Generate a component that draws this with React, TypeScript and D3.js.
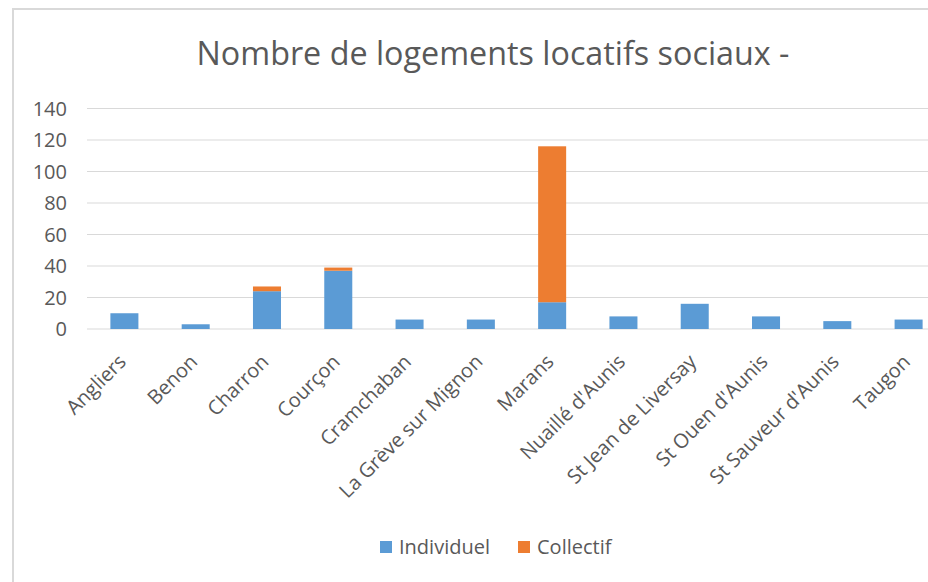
import * as d3 from 'd3';

const communes = [
  'Angliers',
  'Benon',
  'Charron',
  'Courçon',
  'Cramchaban',
  'La Grève sur Mignon',
  'Marans',
  "Nuaillé d'Aunis",
  'St Jean de Liversay',
  "St Ouen d'Aunis",
  "St Sauveur d'Aunis",
  'Taugon',
];
const individuel = [10, 3, 24, 37, 6, 6, 17, 8, 16, 8, 5, 6];
const collectif = [0, 0, 3, 2, 0, 0, 99, 0, 0, 0, 0, 0];
const seriesNames = ['Individuel', 'Collectif'];
const yTicks = [0, 20, 40, 60, 80, 100, 120, 140];

const colours = ['#5b9bd5', '#ed7d31'];
const textColour = '#595959';
const font = '"Open Sans", Lato, sans-serif';

export default function App() {
  const width = 928;
  const height = 582;
  const plot = { left: 89, right: 944, top: 108.5, bottom: 329 };

  const rows = communes.map((c, i) => ({ commune: c, Individuel: individuel[i], Collectif: collectif[i] }));
  const stacked = d3.stack<any>().keys(seriesNames)(rows);

  const x = d3.scaleBand().domain(communes).range([plot.left, plot.right]).paddingInner(0.607).paddingOuter(0.3);
  const y = d3.scaleLinear().domain([0, 140]).range([plot.bottom, plot.top]);

  return (
    <svg width={width} height={height} style={{ position: 'absolute', left: 0, top: 0, background: '#fff' }}>
      <rect x={13} y={9} width={960} height={600} fill="#fff" stroke="#d9d9d9" strokeWidth={2} />
      <text x={493} y={65} textAnchor="middle" fontFamily={font} fontSize={32.3} fill={textColour}>
        Nombre de logements locatifs sociaux -
      </text>

      {yTicks.map(t => (
        <g key={t}>
          <line x1={87} x2={plot.right} y1={y(t)} y2={y(t)} stroke="#d9d9d9" strokeWidth={1} />
          <text x={67} y={y(t)} dy="0.35em" textAnchor="end" fontFamily={font} fontSize={20} fill={textColour}>
            {t}
          </text>
        </g>
      ))}

      {stacked.map((s, si) => (
        <g key={s.key} fill={colours[si]}>
          {s.map((d, i) =>
            d[1] > d[0] ? (
              <rect
                key={i}
                x={x(communes[i])}
                width={x.bandwidth()}
                y={y(d[1])}
                height={y(d[0]) - y(d[1])}
              />
            ) : null
          )}
        </g>
      ))}

      {communes.map(c => {
        const cx = (x(c) as number) + x.bandwidth() / 2;
        return (
          <text
            key={c}
            transform={`translate(${cx - 2},${plot.bottom + 29}) rotate(-45)`}
            textAnchor="end"
            dy="0.35em"
            fontFamily={font}
            fontSize={20}
            fill={textColour}
          >
            {c}
          </text>
        );
      })}

      {seriesNames.map((name, i) => {
        const lx = [380, 518][i];
        return (
          <g key={name}>
            <rect x={lx} y={541} width={12} height={12} fill={colours[i]} />
            <text x={lx + 19} y={547} dy="0.35em" fontFamily={font} fontSize={20} fill={textColour}>
              {name}
            </text>
          </g>
        );
      })}
    </svg>
  );
}
